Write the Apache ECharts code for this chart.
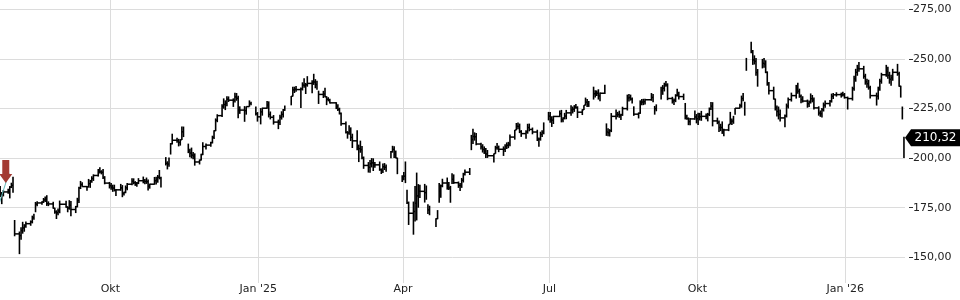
<!DOCTYPE html>
<html><head><meta charset="utf-8">
<script src="https://cdn.jsdelivr.net/npm/echarts@6/dist/echarts.min.js"></script>
<style>html,body{margin:0;padding:0;background:#fff}#c{width:960px;height:300px}</style>
</head><body><div id="c"></div>
<script>
// ---- data ----
const startDate = '2024-07-24';
const endDate = '2026-02-06';
const holidays = ['2024-09-02','2024-11-28','2024-12-25','2025-01-01','2025-01-09','2025-01-20','2025-02-17','2025-04-18','2025-05-26','2025-06-19','2025-07-04','2025-09-01','2025-11-27','2025-12-25','2026-01-01','2026-01-19'];

const lows = [
// 2024 Jul
180.4,176.8,180.7,182.0,179.7,184.9,
// Aug
182.5,160.6,151.6,158.9,161.9,162.9,164.9,165.9,167.1,168.9,172.7,175.7,176.5,177.4,177.9,175.9,175.8,174.5,172.0,169.3,171.2,172.2,
// Sep
175.0,172.7,174.0,170.7,172.3,175.2,177.4,184.4,185.5,183.5,185.2,185.0,187.6,188.5,190.7,192.2,191.8,189.5,186.8,184.7,
// Oct
184.0,183.0,183.2,180.9,183.6,180.3,181.2,182.3,183.8,186.3,186.8,186.0,185.6,186.9,187.3,186.8,187.0,183.7,184.6,186.6,186.7,187.6,189.3,
// Nov
185.2,196.3,194.3,195.6,201.8,206.9,207.8,205.9,206.3,209.1,210.6,202.5,200.4,199.9,199.4,196.2,196.8,198.8,201.5,204.3,
// Dec
205.7,207.4,209.6,213.6,218.1,220.7,224.9,224.2,226.2,228.3,225.8,228.0,228.9,220.1,222.3,218.3,221.9,225.9,226.7,221.5,218.4,
// 2025 Jan
217.0,221.4,224.9,220.5,219.5,216.9,214.6,216.7,219.4,220.5,223.8,226.6,231.0,232.8,233.5,225.3,234.1,235.4,232.3,236.0,
// Feb
232.7,236.9,235.2,234.5,227.3,230.3,230.7,226.7,228.6,227.5,224.7,223.8,222.0,216.3,212.4,209.8,211.8,208.6,205.1,
// Mar
204.0,198.0,202.7,199.4,194.6,192.7,192.6,195.3,193.5,195.2,193.6,192.0,192.5,194.0,193.1,199.9,202.8,200.0,199.9,191.9,187.9,
// Apr
188.8,187.4,176.9,166.3,161.4,168.1,168.6,175.0,179.9,177.6,179.0,171.8,171.2,165.3,169.2,177.5,180.0,185.3,184.1,183.9,177.5,
// May
187.0,187.0,185.0,183.4,185.0,187.7,191.2,191.5,204.0,207.1,208.8,206.5,204.4,202.8,202.1,200.1,200.1,197.8,202.2,204.2,203.0,
// Jun
201.1,203.1,204.6,205.0,206.0,209.3,214.1,214.5,212.6,210.7,209.8,212.3,213.5,212.0,208.6,205.7,208.8,210.6,212.0,219.0,
// Jul
217.8,215.7,217.2,220.7,218.0,218.1,219.5,219.6,221.3,222.5,223.3,224.9,220.2,221.7,224.2,226.6,225.7,225.8,229.5,230.6,231.3,229.5,
// Aug
228.6,232.3,211.2,211.0,210.9,213.1,219.4,220.6,220.3,219.2,221.3,224.0,228.5,229.0,227.5,221.3,220.0,222.3,226.6,226.7,227.0,
// Sep
228.9,228.2,221.9,223.6,229.5,231.9,233.6,236.0,229.2,227.5,226.8,228.2,231.0,229.5,229.3,219.5,219.3,216.6,216.5,219.3,217.5,
// Oct
216.7,219.0,218.8,219.6,218.5,221.2,224.2,216.0,217.1,213.2,213.6,212.2,211.0,213.6,217.0,216.7,217.3,221.8,225.0,225.4,228.6,221.4,244.0,
// Nov
252.8,247.0,247.2,241.5,236.0,245.2,245.6,242.8,236.5,232.0,229.5,224.0,221.0,219.5,218.5,215.5,220.5,225.0,228.5,
// Dec
230.0,232.5,230.4,227.6,228.0,225.4,225.8,227.5,228.1,224.5,221.4,220.8,220.5,223.5,225.4,226.0,228.0,229.8,231.0,230.5,231.0,230.0,
// 2026 Jan
224.5,229.0,234.0,238.5,241.5,243.5,240.0,237.0,235.5,234.5,230.0,226.5,229.5,234.0,237.5,241.0,240.0,237.5,236.5,239.0,
// Feb
241.5,236.0,230.5,219.5,200.0
];

const highs = [
// 2024 Jul
185.9,182.9,183.9,184.6,185.9,187.6,
// Aug
190.6,168.8,163.0,165.1,167.9,166.7,168.0,168.6,171.0,171.9,177.9,178.3,178.3,179.9,180.7,181.3,178.2,178.0,175.0,173.7,174.6,178.6,
// Sep
178.5,175.7,178.8,178.4,175.9,180.0,185.5,188.5,187.8,185.8,189.5,189.0,190.9,191.8,194.5,195.4,193.9,194.5,190.9,188.0,
// Oct
187.5,186.6,186.6,184.4,187.0,186.4,183.1,186.2,187.4,189.9,189.8,188.4,187.9,189.9,190.7,189.5,190.2,189.2,187.1,190.5,190.6,191.5,194.0,
// Nov
190.6,200.5,198.4,200.3,207.6,212.3,210.2,209.7,209.5,215.9,215.9,207.3,204.7,205.3,203.1,202.4,199.3,202.2,208.0,207.4,
// Dec
208.2,211.3,214.0,220.0,222.1,227.2,230.1,229.1,231.2,231.1,230.1,233.0,232.8,231.4,226.1,226.2,226.0,229.1,228.4,226.0,223.2,
// 2025 Jan
225.2,225.4,228.8,228.6,223.5,221.7,219.4,221.8,223.6,224.7,226.5,231.3,236.0,236.0,236.4,235.6,238.2,240.2,237.9,241.3,
// Feb
239.3,242.5,239.8,239.0,234.0,233.9,235.5,231.2,230.7,229.9,228.2,227.2,225.4,223.0,218.4,213.6,216.6,215.5,212.3,
// Mar
214.1,206.8,208.8,206.1,200.8,198.0,199.0,200.0,199.9,198.0,198.3,194.8,197.3,197.5,196.8,203.6,206.2,206.0,203.8,200.2,191.3,
// Apr
193.0,198.3,184.1,178.1,178.1,185.9,192.7,186.9,186.6,187.0,186.2,176.8,176.0,169.7,173.8,187.4,186.7,189.6,190.2,188.0,186.0,
// May
192.4,191.8,188.2,187.5,190.0,192.6,194.3,195.0,211.7,214.8,213.0,212.7,207.7,207.0,205.9,205.1,204.1,202.3,206.2,207.6,206.3,
// Jun
205.9,207.0,207.9,208.2,211.9,214.2,217.7,218.0,217.4,214.1,214.0,217.3,217.4,215.4,214.3,210.4,213.3,214.0,218.0,223.3,
// Jul
223.3,221.1,221.3,224.0,224.3,220.6,222.8,224.3,226.7,226.0,226.7,227.3,226.1,224.6,226.7,230.5,229.8,228.8,236.0,234.2,234.1,234.7,
// Aug
233.1,237.0,217.5,215.1,214.6,222.7,224.5,223.3,223.9,222.3,225.9,232.0,232.3,232.0,230.5,226.1,223.0,229.1,229.8,229.9,229.9,
// Sep
232.8,232.3,226.3,227.1,236.0,236.8,238.0,238.9,237.7,230.9,230.1,232.2,235.0,233.5,232.5,227.8,221.9,220.5,220.2,224.0,222.2,
// Oct
222.8,222.8,223.8,222.5,222.8,225.5,228.3,228.2,220.4,219.0,217.3,218.5,214.8,217.0,223.3,220.0,221.3,225.3,227.4,231.5,232.8,228.4,250.5,
// Nov
258.6,254.5,251.8,250.4,244.9,250.0,250.4,249.3,243.7,238.4,236.0,230.0,226.5,226.0,224.5,222.0,227.5,230.5,233.0,
// Dec
236.9,238.0,235.0,232.0,231.2,229.5,229.0,232.6,231.8,230.5,226.1,224.0,225.3,228.0,229.0,229.3,232.5,232.8,233.2,233.0,233.5,232.8,
// 2026 Jan
231.0,236.0,241.5,245.0,247.0,248.5,246.5,242.5,240.0,239.5,236.5,233.0,236.0,240.0,243.0,247.0,246.0,243.5,242.0,245.0,
// Feb
247.5,243.5,236.5,226.0,210.8
];

const tickDates = ['2024-10-01','2025-01-01','2025-04-01','2025-07-01','2025-10-01','2026-01-01'];
const tickLabels = ['Okt', "Jan '25", 'Apr', 'Jul', 'Okt', "Jan '26"];
const priceTicks = [150, 175, 200, 225, 250, 275];
const priceRange = [137.05, 279.69];
const lastClose = 210.32;
const signalPoint = ['2024-07-28', 187.4];
const trendLine = [['2024-07-24', 177.4], ['2024-07-30', 192.5]];
const viewStart = '2024-07-24T09:50';
const viewEnd = '2026-02-07T03:36';

// ---- helpers ----
function ts(s) {
  const m = s.match(/(\d+)-(\d+)-(\d+)(?:T(\d+):(\d+))?/);
  return Date.UTC(+m[1], +m[2] - 1, +m[3], +(m[4] || 0), +(m[5] || 0));
}
function fmt(v) { return v.toFixed(2).replace('.', ','); }

const HALF_DAY = 12 * 3600000;
const dates = [];
for (let t = ts(startDate); t <= ts(endDate); t += 86400000) {
  const d = new Date(t);
  const wd = d.getUTCDay();
  const iso = d.toISOString().slice(0, 10);
  if (wd !== 0 && wd !== 6 && holidays.indexOf(iso) < 0) dates.push(t + HALF_DAY);
}
const n = Math.min(dates.length, lows.length, highs.length);
const bars = [];
for (let i = 0; i < n; i++) bars.push([dates[i], lows[i], highs[i]]);

const tickTimes = tickDates.map(ts);
const xMin = ts(viewStart), xMax = ts(viewEnd);
const FONT = 'DejaVu Sans';

const chart = echarts.init(document.getElementById('c'), null, {renderer: 'canvas'});
chart.setOption({
  animation: false,
  backgroundColor: '#fff',
  grid: [{left: 0, right: 55, top: 0, height: 283}],
  xAxis: [
    {type: 'value', min: xMin, max: xMax,
      axisLine: {show: false},
      axisTick: {show: false, customValues: tickTimes},
      axisLabel: {customValues: tickTimes, margin: 1, color: '#222', fontSize: 11, fontFamily: FONT,
        formatter: function (v) { const i = tickTimes.indexOf(v); return i >= 0 ? tickLabels[i] : ''; }},
      splitLine: {show: true, lineStyle: {color: '#dcdcdc', width: 1}}
    },
    {type: 'value', min: xMin, max: xMax, offset: 10,
      axisLine: {show: false},
      axisTick: {show: true, customValues: tickTimes, length: 4, lineStyle: {color: '#222'}},
      axisLabel: {show: false},
      splitLine: {show: false}
    }
  ],
  yAxis: [
    {type: 'value', position: 'right', min: priceRange[0], max: priceRange[1], offset: 4,
      axisLine: {show: false},
      axisTick: {show: true, length: 4, customValues: priceTicks, lineStyle: {color: '#333'}},
      axisLabel: {margin: 4, customValues: priceTicks, color: '#222', fontSize: 11, fontFamily: FONT, formatter: fmt},
      splitLine: {show: true, lineStyle: {color: '#dcdcdc', width: 1}}
    }
  ],
  series: [
    {
      type: 'custom', xAxisIndex: 0, yAxisIndex: 0, silent: true, clip: true,
      data: bars, encode: {x: 0, y: [1, 2]},
      renderItem: function (params, api) {
        const i = params.dataIndex;
        const lo = api.coord([api.value(0), api.value(1)]);
        const hi = api.coord([api.value(0), api.value(2)]);
        const children = [{type: 'rect', shape: {x: lo[0] - 0.8, y: hi[1], width: 1.6, height: Math.max(1, lo[1] - hi[1])},
          style: {fill: '#000'}}];
        if (i + 1 < bars.length) {
          const a = Math.max(bars[i][1], bars[i + 1][1]);
          const b = Math.min(bars[i][2], bars[i + 1][2]);
          if (a <= b) {
            const p = api.coord([bars[i][0], (a + b) / 2]);
            const q = api.coord([bars[i + 1][0], (a + b) / 2]);
            children.push({type: 'line', shape: {x1: p[0], y1: p[1], x2: q[0], y2: q[1]},
              style: {stroke: '#000', lineWidth: 1.5}});
          }
        }
        return {type: 'group', children: children};
      }
    },
    {
      type: 'line', xAxisIndex: 0, yAxisIndex: 0, silent: true, symbol: 'none',
      data: trendLine.map(p => [ts(p[0]), p[1]]),
      lineStyle: {color: '#5fb8b8', width: 1},
      z: 3,
      markPoint: {
        silent: true,
        data: [
          {coord: [ts(signalPoint[0]), signalPoint[1]],
            symbol: 'path://M3,0 L10,0 L10,14 L13,14 L6.5,23 L0,14 L3,14 Z',
            symbolSize: [13, 23], symbolOffset: [0, '-50%'], symbolKeepAspect: false,
            itemStyle: {color: '#a33b33'}, label: {show: false}},
          {coord: [xMax, lastClose],
            symbol: 'path://M0,8.5 L6,0 L55,0 L55,17 L6,17 Z',
            symbolSize: [55, 17], symbolOffset: [27.5, 0], symbolKeepAspect: false,
            itemStyle: {color: '#000'},
            label: {show: true, position: 'inside', offset: [3, 0], color: '#fff', fontSize: 12, fontFamily: FONT,
              formatter: fmt(lastClose)}}
        ]
      }
    }
  ]
});
</script>
</body></html>
